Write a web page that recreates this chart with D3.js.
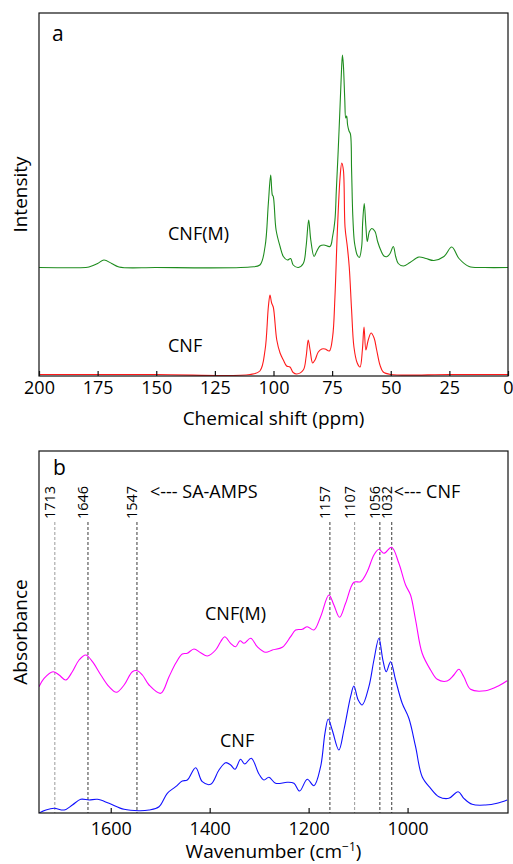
<!DOCTYPE html>
<html><head><meta charset="utf-8">
<script src="https://cdn.jsdelivr.net/npm/d3@7"></script>
<style>
body{margin:0;background:#fff}
svg text{font-family:"Open Sans",sans-serif;fill:#000}
</style>
</head><body>
<svg id="c" width="513" height="864"></svg>
<script>
// ---------- Panel a : 13C NMR ----------
const nmrTicks = [200,175,150,125,100,75,50,25,0];
const cnfShift = [200,150,110,105.8,103.6,102.2,101.5,100.8,100.1,98.6,97.2,95.8,94.4,93.0,91.6,90.1,87.3,86.1,85.2,84.4,83.3,82.3,80.9,79.4,78.0,76.2,74.8,73.8,72.8,71.6,70.9,70.2,69.5,68.5,67.7,66.7,65.7,64.3,63.1,62.1,61.4,60.6,59.6,58.4,57.1,56.0,54.6,53.2,50,25,0];
const cnfInt   = [1.5,1.5,1.5,5,26,69,81,73,69,36,23,16,10,9,3.5,2,6,19,36,26,13,16,24,27,27,25,39,79,143,199,213,206,149,129,109,66,29,13,9,26,49,26,36,43,38,26,11,4,1.5,1.5,1.5];
const cnfmShift = [200,180,178.7,175,172.3,169,165.9,150,110,105.8,103.6,102.2,101.2,100.5,100.1,98.9,97.2,95.8,94.1,92.7,91.6,89.4,87.3,86.1,85.0,84.1,82.7,81.6,80.2,78.5,75.9,74.8,73.8,73.2,72.4,71.6,71.0,70.6,70.2,69.6,69.2,68.8,68.4,67.8,67.2,66.7,66.2,65.6,65.2,64.3,63.4,62.4,62.0,61.3,60.6,60.0,59.1,58.1,56.7,55.6,54.3,52.9,51.5,50.3,48.9,47.9,46.8,44.6,41.8,38.0,35,31.6,27.3,24.0,20.9,16.6,10,0];
const cnfmInt   = [0,0,0.5,4,7.5,4,0.5,0,0.5,2.5,21,64,92.5,72.5,71,37.5,21,11,7.5,9,2.5,0,4,21,47.5,27.5,11,16,21.5,22.5,21,31,47.5,77.5,117.5,162.5,197.5,212.5,202.5,167.5,149.5,151.5,142.5,136.5,133.5,97.5,52.5,27.5,21,12.5,10,21,44,64,41,26,36,39,36,26,17.5,11.5,11,14,21,11,4,1.5,5,10.5,9,7,11,20.5,9,1,0,0];
const cnfmOffset = 108.5;

// ---------- Panel b : FTIR ----------
const irTicks = [1600,1400,1200,1000];
const irMarks = [1713,1646,1547,1157,1107,1056,1032];
const irMarkLight = [true,false,false,false,true,false,false];
const irWn = [1745,1734.7,1716.6,1704.4,1690.9,1677.6,1664,1650.5,1637,1620,1603.4,1588.6,1573,1556.3,1546.3,1536,1522.6,1499,1482.2,1468.7,1455.4,1445.3,1431.8,1418.3,1404.8,1388,1377.8,1369.7,1357.6,1347.5,1338.8,1330.7,1317.2,1303.8,1286.9,1273.3,1253.2,1236.4,1226.3,1212.8,1202.8,1189.3,1175.8,1159,1148.9,1137.4,1125.3,1108.5,1095,1081.6,1068,1058,1047.9,1032.3,1017.6,1004,994,983.8,970.5,953.5,940,920,906.5,896.4,886.3,872.7,842.4,815.6,798.8];
const irCnfM = [126.3,134.7,141.3,138,133,141.3,153,158,151.3,138,126.3,120.7,128,141.3,142.3,138,128,119.7,136.3,149.7,159,159.7,164,160.3,157,163,171.3,176.3,169.7,166.3,172.3,169.7,174.7,166.3,160.7,163,165.7,176.3,183,183.7,186.3,183,196.3,218,208,195.7,209.7,230.7,231.3,241.3,258,263.7,259.7,265.7,249.7,228,218,193,159.7,143,133.7,132,138,143.7,136.3,123.7,122.3,127.3,132.3];
const irWn2 = [1745,1731,1714.5,1694,1677.6,1660.6,1643.8,1627,1603.4,1573,1542.8,1522.6,1502.4,1485.7,1468.7,1455.4,1445.3,1428.3,1414.9,1398,1381.2,1367.7,1357.6,1348.9,1337.4,1329.3,1315.9,1300.4,1290.3,1280.2,1266.7,1243.2,1229.7,1218.2,1202.8,1189.3,1175.8,1167,1160.4,1152.3,1138.8,1128.7,1115.2,1108.5,1099.8,1091.7,1078.2,1068,1058,1049.9,1043.2,1034.3,1024.2,1010.9,997.4,983.8,970.5,953.5,936.8,916.6,897.8,886.3,869.5,842.4,819,798.8];
const irCnf = [0,3,4.7,3,8,13.7,13,13.7,9.7,3.7,2.3,3,6.3,19.7,26.3,32,33,45.3,31.3,28.7,43,50.3,48,43.7,53.7,49,54.7,39,33,35.7,29.7,30.7,29.7,22,33.7,27.3,46.3,79.7,94,83,63,83,116.3,127,113,108,126.3,153,174.7,153,141.3,151.3,133,109.7,94.7,66.3,36.3,24.7,16.3,14.7,21.3,14.7,8.7,8,9.7,13];

const svg = d3.select("#c");
const L = 39, R = 508;
const A = {top:13, bottom:376};
const B = {top:451, bottom:813};

const xa = d3.scaleLinear().domain([200,0]).range([L,R]);
const ya = d3.scaleLinear().domain([0,363]).range([A.bottom,A.top]);
const xb = d3.scaleLinear().domain([1745,797]).range([L,R]);
const yb = d3.scaleLinear().domain([0,362]).range([B.bottom,B.top]);

const defs = svg.append("defs");
defs.append("clipPath").attr("id","ca").append("rect").attr("x",L).attr("y",A.top).attr("width",R-L).attr("height",A.bottom-A.top);
defs.append("clipPath").attr("id","cb").append("rect").attr("x",L).attr("y",B.top).attr("width",R-L).attr("height",B.bottom-B.top);

function frame(p){
  svg.append("rect").attr("x",L).attr("y",p.top).attr("width",R-L).attr("height",p.bottom-p.top)
    .attr("fill","none").attr("stroke","#111").attr("stroke-width",1.2);
}

// ---- Panel a
const la = d3.line().curve(d3.curveCatmullRom.alpha(0.5));
svg.append("path").attr("clip-path","url(#ca)")
  .attr("d", la(cnfShift.map((s,i)=>[xa(s), ya(cnfInt[i])])))
  .attr("fill","none").attr("stroke","#ff1a1a").attr("stroke-width",1.1);
svg.append("path").attr("clip-path","url(#ca)")
  .attr("d", la(cnfmShift.map((s,i)=>[xa(s), ya(cnfmInt[i]+cnfmOffset)])))
  .attr("fill","none").attr("stroke","#1e8c1e").attr("stroke-width",1.1);
frame(A);
const axA = svg.append("g").attr("transform",`translate(0,${A.bottom})`)
  .call(d3.axisBottom(xa).tickValues(nmrTicks).tickFormat(d3.format("d")).tickSizeInner(-5).tickSizeOuter(0));
axA.select(".domain").remove();
axA.selectAll("line").attr("stroke","#111").attr("stroke-width",1.2);
axA.selectAll("text").attr("y",17.5).attr("dy",null).style("font-size","18px").attr("fill","#000");
svg.append("text").attr("x",(L+R)/2).attr("y",425).attr("text-anchor","middle").style("font-size","19px").text("Chemical shift (ppm)");
svg.append("text").attr("transform",`translate(26.5,${(A.top+A.bottom)/2}) rotate(-90)`).attr("text-anchor","middle").style("font-size","19px").text("Intensity");
svg.append("text").attr("x",52).attr("y",41).style("font-size","21px").text("a");
svg.append("text").attr("x",168).attr("y",240).style("font-size","18px").text("CNF(M)");
svg.append("text").attr("x",168).attr("y",352).style("font-size","18px").text("CNF");

// ---- Panel b
irMarks.forEach((m,i)=>{
  svg.append("line").attr("x1",xb(m)).attr("x2",xb(m)).attr("y1",522).attr("y2",B.bottom)
    .attr("stroke", irMarkLight[i] ? "#9a9a9a" : "#3a3a3a").attr("stroke-width",1).attr("stroke-dasharray","3,2");
  svg.append("text").attr("transform",`translate(${xb(m)+0.5},519) rotate(-90)`)
    .attr("text-anchor","start").style("font-size","14.5px").text(m);
});
svg.append("path").attr("clip-path","url(#cb)")
  .attr("d", la(irWn.map((w,i)=>[xb(w), yb(irCnfM[i])])))
  .attr("fill","none").attr("stroke","#ff00ff").attr("stroke-width",1.1);
svg.append("path").attr("clip-path","url(#cb)")
  .attr("d", la(irWn2.map((w,i)=>[xb(w), yb(irCnf[i])])))
  .attr("fill","none").attr("stroke","#1010ff").attr("stroke-width",1.1);
frame(B);
const axB = svg.append("g").attr("transform",`translate(0,${B.bottom})`)
  .call(d3.axisBottom(xb).tickValues(irTicks).tickFormat(d3.format("d")).tickSizeInner(-5).tickSizeOuter(0));
axB.select(".domain").remove();
axB.selectAll("line").attr("stroke","#111").attr("stroke-width",1.2);
axB.selectAll("text").attr("y",22).attr("dy",null).style("font-size","18px").attr("fill","#000");
const wt = svg.append("text").attr("x",(L+R)/2).attr("y",858).attr("text-anchor","middle").style("font-size","19px");
wt.append("tspan").text("Wavenumber (cm");
wt.append("tspan").attr("dy",-7).style("font-size","12px").text("\u22121");
wt.append("tspan").attr("dy",7).text(")");
svg.append("text").attr("transform",`translate(26.5,${(B.top+B.bottom)/2}) rotate(-90)`).attr("text-anchor","middle").style("font-size","19px").text("Absorbance");
svg.append("text").attr("x",53).attr("y",475).style("font-size","21px").text("b");
svg.append("text").attr("x",xb(1547)+13).attr("y",498).style("font-size","18px").text("<--- SA-AMPS");
svg.append("text").attr("x",xb(1032)+2).attr("y",498).style("font-size","18px").text("<--- CNF");
svg.append("text").attr("x",205).attr("y",620).style("font-size","18px").text("CNF(M)");
svg.append("text").attr("x",220).attr("y",747).style("font-size","18px").text("CNF");
</script>
</body></html>
